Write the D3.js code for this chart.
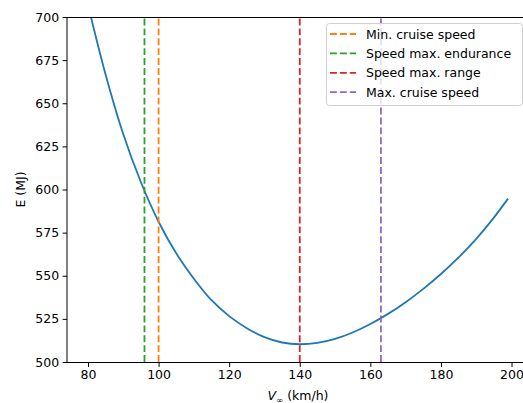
<!DOCTYPE html>
<html>
<head>
<meta charset="utf-8">
<script src="https://cdn.jsdelivr.net/npm/d3@7"></script>
<style>
  body { margin: 0; background: #fff; }
  svg { display: block; font-family: "DejaVu Sans", sans-serif; }
</style>
</head>
<body>
<div id="chart"></div>
<script>
// speed (km/h) and energy (MJ)
var speeds = [80, 85, 90, 95, 100, 105, 110, 115, 120, 125, 130, 135, 140, 145, 150, 155, 160, 165, 170, 175, 180, 185, 190, 195, 199];
var energy = [707, 666.5, 632, 604.2, 581.3, 563, 548.3, 535.8, 526.6, 519.6, 514.4, 511.3, 510.3, 511.1, 513.4, 517.1, 522, 527.9, 534.7, 542.4, 551, 560.6, 571.4, 583.7, 594.7];

var markerNames = ["Min. cruise speed", "Speed max. endurance", "Speed max. range", "Max. cruise speed"];
var markerSpeeds = [100, 96, 140, 163];
var markerColors = ["#ff7f0e", "#2ca02c", "#d62728", "#9467bd"];

var xTicks = [80, 100, 120, 140, 160, 180, 200];
var yTicks = [500, 525, 550, 575, 600, 625, 650, 675, 700];

var W = 523, H = 403;
var fs = 12.5;
var margin = {top: 17, right: -6, bottom: 41, left: 67},
  width = W - margin.left - margin.right,
  height = H - margin.top - margin.bottom;

var x = d3.scaleLinear().domain([74.05, 204.95]).range([0, width]);
var y = d3.scaleLinear().domain([500, 700]).range([height, 0]);

var svg = d3.select("#chart").append("svg")
  .attr("width", W)
  .attr("height", H);

var g = svg.append("g")
  .attr("transform", "translate(" + margin.left + "," + margin.top + ")");

g.append("clipPath").attr("id", "clip")
  .append("rect").attr("width", width).attr("height", height);

var plot = g.append("g").attr("clip-path", "url(#clip)");

var line = d3.line()
  .x(function(d, i) { return x(speeds[i]); })
  .y(function(d) { return y(d); })
  .curve(d3.curveCatmullRom.alpha(0.5));

plot.append("path")
  .datum(energy)
  .attr("fill", "none")
  .attr("stroke", "#1f77b4")
  .attr("stroke-width", 1.8)
  .attr("d", line);

plot.selectAll(".vline")
  .data(markerSpeeds)
  .enter().append("line")
  .attr("class", "vline")
  .attr("x1", function(d) { return x(d); })
  .attr("x2", function(d) { return x(d); })
  .attr("y1", y(500))
  .attr("y2", y(700))
  .attr("stroke", function(d, i) { return markerColors[i]; })
  .attr("stroke-width", 1.8)
  .attr("stroke-dasharray", "6.9,3");

// axes
var xAxis = d3.axisBottom(x).tickValues(xTicks).tickSize(4.4).tickPadding(3.5).tickFormat(d3.format("d"));
var yAxis = d3.axisLeft(y).tickValues(yTicks).tickSize(4.4).tickPadding(3.5).tickFormat(d3.format("d"));

var gx = g.append("g")
  .attr("transform", "translate(0," + (height + 0.5) + ")")
  .call(xAxis);
var gy = g.append("g").call(yAxis);

[gx, gy].forEach(function(a) {
  a.select(".domain").remove();
  a.selectAll(".tick line").attr("stroke", "#000").attr("stroke-width", 1);
  a.selectAll(".tick text").attr("fill", "#000").style("font-size", fs + "px").style("font-family", "DejaVu Sans");
});

// spines
g.append("line").attr("x1", 0).attr("x2", 0).attr("y1", 0).attr("y2", height + 0.5)
  .attr("stroke", "#000").attr("stroke-width", 1);
g.append("line").attr("x1", 0).attr("x2", width).attr("y1", height + 0.5).attr("y2", height + 0.5)
  .attr("stroke", "#000").attr("stroke-width", 1);
g.append("line").attr("x1", 0).attr("x2", width).attr("y1", 0.5).attr("y2", 0.5)
  .attr("stroke", "#000").attr("stroke-width", 1);

// axis labels
var xl = svg.append("text")
  .attr("x", margin.left + width / 2)
  .attr("y", 400)
  .attr("text-anchor", "middle")
  .style("font-size", fs + "px");
xl.append("tspan").style("font-style", "italic").text("V");
xl.append("tspan").attr("dy", 2.5).style("font-size", "8.5px").text("∞");
xl.append("tspan").attr("dy", -2.5).text(" (km/h)");

svg.append("text")
  .attr("transform", "translate(25," + (margin.top + height / 2) + ") rotate(-90)")
  .attr("text-anchor", "middle")
  .style("font-size", fs + "px")
  .text("E (MJ)");

// legend
var legend = svg.append("g").attr("transform", "translate(326,23)");
legend.append("rect")
  .attr("x", 0.5).attr("y", 0.5)
  .attr("width", 196).attr("height", 82)
  .attr("rx", 3)
  .attr("fill", "#fff").attr("fill-opacity", 0.8)
  .attr("stroke", "#d0d0d0").attr("stroke-width", 1);

var item = legend.selectAll(".item")
  .data(markerNames)
  .enter().append("g")
  .attr("class", "item")
  .attr("transform", function(d, i) { return "translate(0," + (11 + i * 19.4) + ")"; });

item.append("line")
  .attr("x1", 4).attr("x2", 30)
  .attr("stroke", function(d, i) { return markerColors[i]; })
  .attr("stroke-width", 1.8)
  .attr("stroke-dasharray", "6.9,3");

item.append("text")
  .attr("x", 40)
  .attr("dy", "0.36em")
  .style("font-size", fs + "px")
  .text(function(d) { return d; });
</script>
</body>
</html>
